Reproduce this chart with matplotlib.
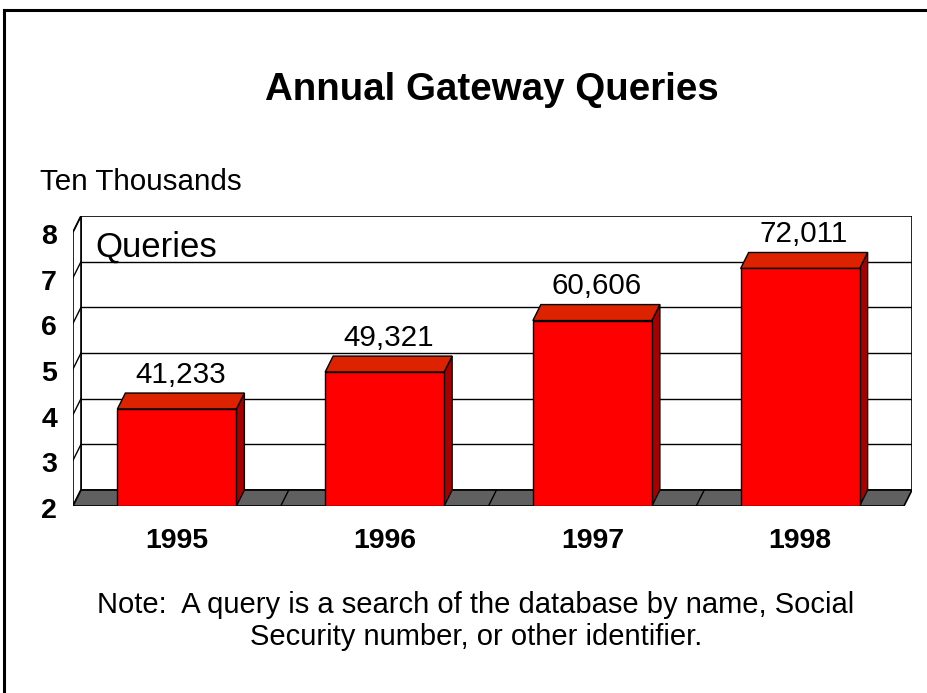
import matplotlib
matplotlib.use("Agg")
import matplotlib.pyplot as plt
from matplotlib.patches import Polygon, Rectangle
from matplotlib.lines import Line2D
import matplotlib.transforms as mtransforms

plt.rcParams['font.family'] = ['Liberation Sans', 'DejaVu Sans']

# data (queries, ten thousands)
years = ['1995', '1996', '1997', '1998']
queries = [41233, 49321, 60606, 72011]
yticks = [2, 3, 4, 5, 6, 7, 8]

W, H = 927, 693
fig = plt.figure(figsize=(W / 100, H / 100), dpi=100)

# fake 3d depth, in data units
dx = 8 / 207.75
dy = 16 / 45.7
ymin, ymax = 2, 8
n = len(years)
hw = 0.2864  # half bar width

# axes placed so x 0..n is the floor front edge
ax = fig.add_axes([73 / W, 1 - 506 / H, (912 - 73) / W, (506 - 216) / H])
ax.set_xlim(0, n + dx)
ax.set_ylim(ymin, ymax + dy)
ax.axis('off')

# back wall
ax.add_patch(Rectangle((dx, ymin + dy), n, ymax - ymin, facecolor='white',
                       edgecolor='black', lw=1.2, zorder=1))
for t in yticks[1:-1]:
    ax.add_line(Line2D([dx, n + dx], [t + dy, t + dy], color='black', lw=1, zorder=2))
# left wall
ax.add_patch(Polygon([(0, ymin), (dx, ymin + dy), (dx, ymax + dy), (0, ymax)],
                     closed=True, facecolor='white', edgecolor='black', lw=1.2, zorder=1))
for t in yticks:
    ax.add_line(Line2D([0, dx], [t, t + dy], color='black', lw=1, zorder=2))
# floor
ax.add_patch(Polygon([(0, ymin), (n, ymin), (n + dx, ymin + dy), (dx, ymin + dy)],
                     closed=True, facecolor='#606060', edgecolor='black', lw=1.2, zorder=3))
for i in range(1, n):
    ax.add_line(Line2D([i, i + dx], [ymin, ymin + dy], color='black', lw=1, zorder=3))

# bars
for i, q in enumerate(queries):
    v = q / 10000
    c = i + 0.5
    x0, x1 = c - hw, c + hw
    ax.add_patch(Polygon([(x1, ymin), (x1 + dx, ymin + dy), (x1 + dx, v + dy), (x1, v)],
                         closed=True, facecolor='#A80000', edgecolor='black', lw=1, zorder=4))
    ax.add_patch(Polygon([(x0, v), (x1, v), (x1 + dx, v + dy), (x0 + dx, v + dy)],
                         closed=True, facecolor='#DD2200', edgecolor='black', lw=1, zorder=4))
    ax.add_patch(Rectangle((x0, ymin), x1 - x0, v - ymin, facecolor='#FF0000',
                           edgecolor='black', lw=1, zorder=5))
    ax.annotate(f'{q:,}', (c + dx / 2, v + dy), xytext=(0, 3), textcoords='offset points',
                ha='center', va='bottom', fontsize=21.3, zorder=6)
    ax.annotate(years[i], (c, ymin), xytext=(0, -25), textcoords='offset points',
                ha='center', va='center', fontsize=20.5, fontweight='bold')

# y tick labels
trans = mtransforms.blended_transform_factory(fig.transFigure, ax.transData)
for t in yticks:
    ax.annotate(str(t), (49 / W, t), xycoords=trans, xytext=(0, -3.5),
                textcoords='offset points', ha='center', va='center',
                fontsize=20.5, fontweight='bold')

fig.text(95 / W, 1 - 247 / H, 'Queries', ha='left', va='center', fontsize=25)
fig.text(492 / W, 1 - 90 / H, 'Annual Gateway Queries', ha='center', va='center',
         fontsize=27.7, fontweight='bold')
fig.text(40 / W, 1 - 182 / H, 'Ten Thousands', ha='left', va='center', fontsize=21.3)
fig.text(476 / W, 1 - 621 / H,
         'Note:  A query is a search of the database by name, Social\nSecurity number, or other identifier.',
         ha='center', va='center', fontsize=21, linespacing=1.22)

# slide frame
fig.add_artist(Line2D([4 / W, 1.0], [1 - 9.5 / H, 1 - 9.5 / H], color='black', lw=2.2))
fig.add_artist(Line2D([4 / W, 4 / W], [0, 1 - 9.5 / H], color='black', lw=2.2))

fig.savefig('out.png', dpi=100)
